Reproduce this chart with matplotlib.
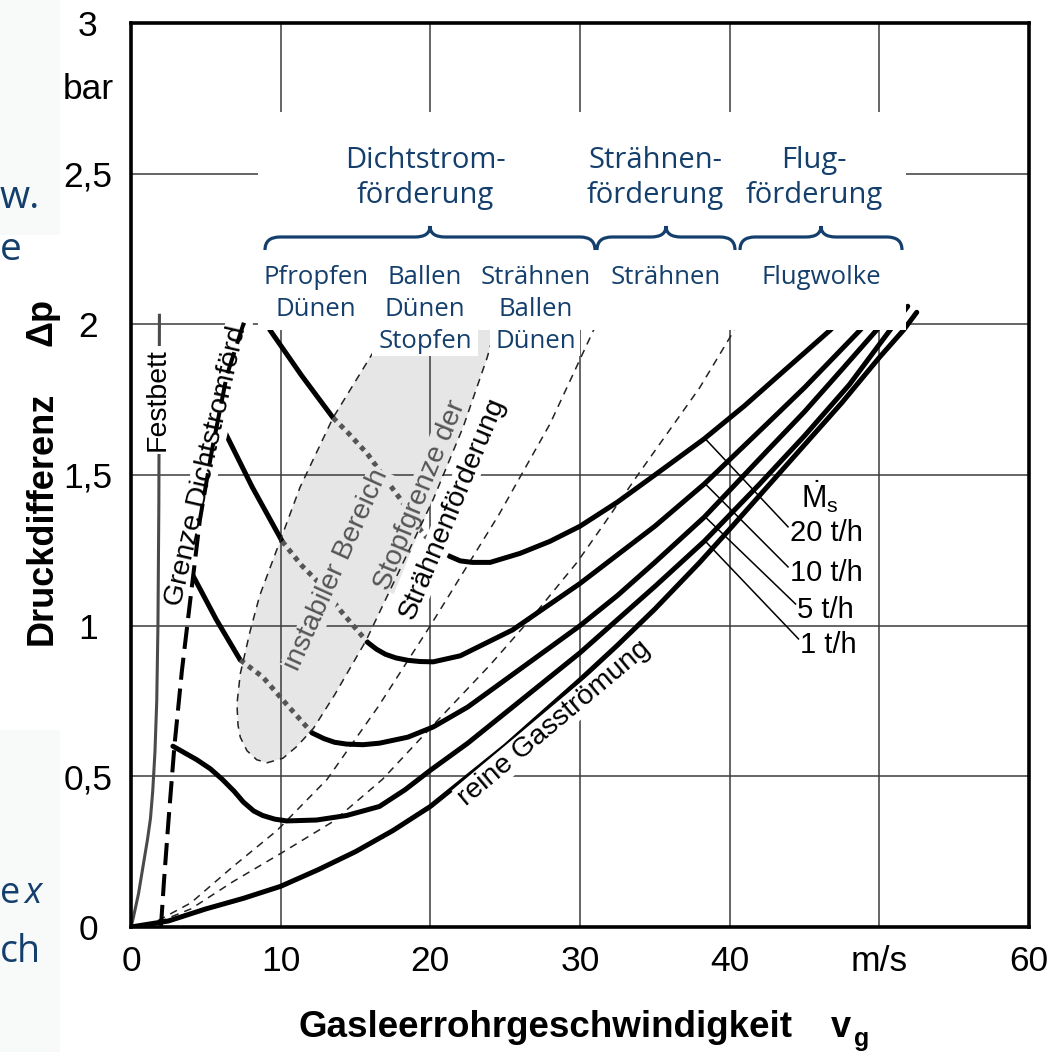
import matplotlib
matplotlib.use('Agg')
import matplotlib.pyplot as plt
import numpy as np
from matplotlib.patches import Rectangle, PathPatch
from matplotlib.path import Path
from matplotlib.transforms import Affine2D

plt.rcParams['font.family'] = ['Liberation Sans', 'DejaVu Sans']
plt.rcParams['mathtext.fontset'] = 'custom'
plt.rcParams['mathtext.rm'] = 'Liberation Sans'
plt.rcParams['mathtext.it'] = 'Liberation Sans'
plt.rcParams['mathtext.bf'] = 'Liberation Sans:bold'

# achsen
x_ticks = [0, 10, 20, 30, 40, 50, 60]
x_tick_labels = ['0', '10', '20', '30', '40', 'm/s', '60']
y_ticks = [0, 0.5, 1, 1.5, 2, 2.5, 2.79, 3]
y_tick_labels = ['0', '0,5', '1', '1,5', '2', '2,5', 'bar', '3']
x_grid = [10, 20, 30, 40, 50]
y_grid = [0.5, 1, 1.5, 2, 2.5]

# reine Gasströmung
gas_x = [0, 2.5, 5, 7.5, 10, 12.5, 15, 17.5, 20, 22.5, 25, 27.5, 30, 32.5, 35, 38, 40, 42.5, 45, 47.5, 50, 51.6, 52.5]
gas_y = [0, 0.02, 0.06, 0.095, 0.135, 0.19, 0.25, 0.32, 0.40, 0.50, 0.60, 0.71, 0.82, 0.935, 1.055, 1.21, 1.32, 1.46, 1.60, 1.74, 1.89, 1.98, 2.04]

# 1 t/h
t1_x = [2.8, 4.4, 5.3, 6.1, 6.9, 7.5, 8.2, 8.8, 9.6, 10.4, 12.4, 14.4, 16.6, 18.3, 20, 22.5, 25, 30, 35, 38.3, 42, 45, 48, 50.7, 51.9]
t1_y = [0.60, 0.555, 0.525, 0.49, 0.45, 0.415, 0.385, 0.37, 0.358, 0.352, 0.355, 0.37, 0.40, 0.455, 0.52, 0.61, 0.71, 0.91, 1.13, 1.28, 1.47, 1.63, 1.80, 1.98, 2.06]

# 5 t/h
t5_a_x = [4.1, 5.7, 7.3]
t5_a_y = [1.17, 1.02, 0.886]
t5_dot_x = [7.3, 8.8, 10.2, 12.1]
t5_dot_y = [0.886, 0.83, 0.75, 0.644]
t5_b_x = [12.1, 12.9, 13.6, 14.4, 15.5, 16.6, 18.5, 20.2, 22.5, 25, 27.5, 30, 32.5, 35, 38.3, 42.5, 45, 47.5, 49.8, 51.3]
t5_b_y = [0.644, 0.625, 0.613, 0.607, 0.605, 0.61, 0.63, 0.664, 0.73, 0.82, 0.91, 1.0, 1.1, 1.21, 1.36, 1.58, 1.71, 1.85, 1.98, 2.07]

# 10 t/h
t10_a_x = [6.1, 8.1, 10.1]
t10_a_y = [1.66, 1.46, 1.28]
t10_dot_x = [10.1, 11.4, 12.6, 14.0, 15.8]
t10_dot_y = [1.28, 1.20, 1.14, 1.05, 0.945]
t10_b_x = [15.8, 16.4, 17, 17.7, 18.5, 19.3, 20.2, 22, 25.5, 30, 35, 38.3, 42.5, 45, 48.7, 50.5]
t10_b_y = [0.945, 0.922, 0.905, 0.893, 0.885, 0.881, 0.88, 0.90, 0.986, 1.14, 1.33, 1.47, 1.67, 1.79, 1.98, 2.08]

# 20 t/h
t20_a_x = [8.8, 9.3, 11.4, 13.5]
t20_a_y = [2.03, 1.98, 1.83, 1.69]
t20_dot_x = [13.5, 14.5, 15.8, 17.1, 18.0, 19.3, 20.3, 21.3]
t20_dot_y = [1.69, 1.64, 1.57, 1.48, 1.42, 1.32, 1.26, 1.23]
t20_b_x = [21.3, 22.0, 22.8, 24, 26, 28, 30, 32.5, 35, 38.3, 41, 43.5, 46.7, 48.5]
t20_b_y = [1.23, 1.215, 1.21, 1.21, 1.24, 1.28, 1.33, 1.41, 1.50, 1.62, 1.73, 1.84, 1.98, 2.07]

# Festbett, Grenze Dichtstromförderung
festbett_x = [0, 0.15, 0.5, 0.8, 1.1, 1.3, 1.45, 1.6, 1.72, 1.8, 1.86, 1.9]
festbett_y = [0, 0.03, 0.11, 0.2, 0.29, 0.36, 0.45, 0.58, 0.75, 1.0, 1.4, 2.03]
grenze_x = [2.0, 2.2, 2.5, 2.9, 3.4, 3.9, 4.6, 5.4, 6.4, 7.7]
grenze_y = [0, 0.15, 0.35, 0.6, 0.85, 1.06, 1.35, 1.58, 1.83, 2.03]

# dünne gestrichelte Linien
dash_u_x = [1.0, 4, 6.8, 9.75, 13.1, 16.5, 20, 24.6, 28, 30.9, 31.4]
dash_u_y = [0, 0.08, 0.20, 0.32, 0.49, 0.73, 1.0, 1.37, 1.67, 1.98, 2.04]
dash_l_x = [1.0, 4, 6.8, 10.2, 13.5, 16.8, 20, 24, 27, 29.8, 31.5, 34, 38, 40.3, 40.8]
dash_l_y = [0, 0.06, 0.15, 0.25, 0.35, 0.49, 0.66, 0.87, 1.04, 1.21, 1.33, 1.51, 1.79, 1.98, 2.02]

# instabiler Bereich
blob_x = [17.6, 16.4, 13.5, 11.3, 9.5, 8.6, 7.95, 7.3, 7.08, 7.15, 7.3, 7.75, 8.4, 9.1, 10.15, 11.1, 12.2, 13.6, 15.7, 18, 20.2, 22.2, 23.8, 24.7]
blob_y = [2.08, 1.925, 1.69, 1.46, 1.22, 1.10, 0.98, 0.84, 0.74, 0.67, 0.63, 0.585, 0.555, 0.545, 0.56, 0.60, 0.66, 0.77, 0.95, 1.19, 1.42, 1.66, 1.89, 2.05]

# Legende
ms_labels = ['20 t/h', '10 t/h', '5 t/h', '1 t/h']
ms_label_x = [44.0, 44.0, 44.5, 44.7]
ms_label_y = [1.308, 1.175, 1.052, 0.936]
leader_x = 38.34

# Overlay (Folie)
head_labels = [['Dichtstrom-', 'förderung'], ['Strähnen-', 'förderung'], ['Flug-', 'förderung']]
head_cx = [425, 655, 814]
sub_labels = [['Pfropfen', 'Dünen'], ['Ballen', 'Dünen', 'Stopfen'], ['Strähnen', 'Ballen', 'Dünen'], ['Strähnen'], ['Flugwolke']]
sub_cx = [316, 425, 536, 666, 821]
braces = [(265, 595, 430), (597, 735, 666), (740, 902, 821)]

W, H = 1056, 1052
blau = '#143f6c'
fig = plt.figure(figsize=(W / 100, H / 100), dpi=100, facecolor='#f8faf9')


def fx(px):
    return px / W


def fy(py):
    return 1 - py / H


fig.add_artist(Rectangle((fx(60), 0), 1 - fx(60), 1, transform=fig.transFigure, fc='white', ec='none', zorder=-2))
fig.add_artist(Rectangle((0, fy(730)), fx(60), fy(235) - fy(730), transform=fig.transFigure, fc='white', ec='none', zorder=-2))

ax = fig.add_axes([fx(131), fy(927), fx(1029) - fx(131), fy(23) - fy(927)])
ax.set_facecolor('white')
ax.set_xlim(0, 60)
ax.set_ylim(0, 3)
for s in ax.spines.values():
    s.set_linewidth(2.6)
    s.set_color('black')
    s.set_zorder(5)
for gx in x_grid:
    ax.axvline(gx, color='#3c3c3c', lw=1.1, zorder=1)
for gy in y_grid:
    ax.axhline(gy, color='#3c3c3c', lw=1.1, zorder=1)

ax.set_xticks(x_ticks, x_tick_labels)
ax.set_yticks(y_ticks, y_tick_labels)
ax.tick_params(length=0, labelsize=25.5)
ax.tick_params(axis='x', pad=13)
ax.tick_params(axis='y', pad=31)
for t in ax.get_yticklabels():
    t.set_horizontalalignment('center')

# instabiler Bereich
ax.fill(blob_x, blob_y, color='#e6e6e6', lw=0, zorder=0.8)
ax.plot(blob_x, blob_y, color='#222222', lw=1.1, ls=(0, (5, 4)), zorder=3.7)

ax.plot(dash_u_x, dash_u_y, color='#222222', lw=1.1, ls=(0, (5, 4)), zorder=2)
ax.plot(dash_l_x, dash_l_y, color='#222222', lw=1.1, ls=(0, (5, 4)), zorder=2)

ax.plot(festbett_x, festbett_y, color='#4a4a4a', lw=2.2, zorder=2.5)
ax.plot(grenze_x, grenze_y, color='black', lw=2.9, ls=(0, (5.5, 2.2)), zorder=4)

dick = dict(color='black', lw=3.6, solid_capstyle='round', solid_joinstyle='round', zorder=3)
punkt = dict(color='#555555', lw=3.6, ls=(0, (1, 1)), dash_capstyle='butt', zorder=3)
ax.plot(gas_x, gas_y, **dick)
ax.plot(t1_x, t1_y, **dick)
ax.plot(t5_a_x, t5_a_y, **dick)
ax.plot(t5_dot_x, t5_dot_y, **punkt)
ax.plot(t5_b_x, t5_b_y, **dick)
ax.plot(t10_a_x, t10_a_y, **dick)
ax.plot(t10_dot_x, t10_dot_y, **punkt)
ax.plot(t10_b_x, t10_b_y, **dick)
ax.plot(t20_a_x, t20_a_y, **dick)
ax.plot(t20_dot_x, t20_dot_y, **punkt)
ax.plot(t20_b_x, t20_b_y, **dick)

# Beschriftungen im Diagramm
ax.text(1.8, 1.749, 'Festbett', rotation=90, ha='center', va='center', fontsize=20.5,
        bbox=dict(fc='white', ec='none', pad=2), zorder=3.5)
ax.text(5.08, 1.543, 'Grenze Dichtstromförd.', rotation=77, rotation_mode='anchor', ha='center', va='center',
        fontsize=20.5, bbox=dict(fc='white', ec='none', pad=0.5), zorder=3.5)
ax.text(13.76, 1.185, 'instabiler Bereich', rotation=65.7, rotation_mode='anchor', ha='center', va='center',
        fontsize=20.5, color='#555555', bbox=dict(fc='#e6e6e6', ec='none', pad=0.5), zorder=3.5)
ax.text(19.3, 1.434, 'Stopfgrenze der', rotation=67.8, rotation_mode='anchor', ha='center', va='center',
        fontsize=20.5, color='#555555', bbox=dict(fc='#e6e6e6', ec='none', pad=0.3), zorder=3.5)
ax.text(21.5, 1.391, 'Strähnenförderung', rotation=67.4, rotation_mode='anchor', ha='center', va='center',
        fontsize=20.5, color='black', bbox=dict(fc='white', ec='none', pad=0.3), zorder=3.5)
ax.text(28.3, 0.677, 'reine Gasströmung', rotation=40, rotation_mode='anchor', ha='center', va='center',
        fontsize=20.5, bbox=dict(fc='white', ec='none', pad=1), zorder=3.5)

curves = [(t20_b_x, t20_b_y), (t10_b_x, t10_b_y), (t5_b_x, t5_b_y), (t1_x, t1_y)]
for lab, lx, ly, (cx, cy) in zip(ms_labels, ms_label_x, ms_label_y, curves):
    y0 = np.interp(leader_x, cx, cy)
    ax.plot([leader_x, lx - 0.1], [y0, ly + 0.02], color='black', lw=1.1, zorder=3.2)
    ax.text(lx, ly, lab, ha='left', va='center', fontsize=21, zorder=3.5)
ax.text(46.0, 1.427, r'$\dot{\mathrm{M}}_{\mathrm{s}}$', ha='center', va='center', fontsize=22, zorder=3.5)

# Achsentitel
fig.text(fx(42), fy(518), 'Druckdifferenz', rotation=90, ha='center', va='center', fontsize=26, fontweight='bold')
fig.text(fx(42), fy(322), 'Δp', rotation=90, ha='center', va='center', fontsize=26, fontweight='bold')
fig.text(fx(546), fy(1037), 'Gasleerrohrgeschwindigkeit', ha='center', va='baseline', fontsize=26.5, fontweight='bold')
fig.text(fx(841), fy(1037), 'v', ha='center', va='baseline', fontsize=26, fontweight='bold')
fig.text(fx(862), fy(1046), 'g', ha='center', va='baseline', fontsize=18, fontweight='bold')

# Overlay-Kasten
kaesten = [(258, 112, 906, 330), (372, 329, 478, 356), (490, 329, 580, 356)]
for x0, y0, x1, y1 in kaesten:
    fig.add_artist(Rectangle((fx(x0), fy(y1)), fx(x1) - fx(x0), fy(y0) - fy(y1),
                             transform=fig.transFigure, fc='white', ec='none', zorder=5))
for lines, cx in zip(head_labels, head_cx):
    for i, s in enumerate(lines):
        fig.text(fx(cx), fy(168 + 35 * i), s, ha='center', va='baseline', fontsize=21,
                 family='Open Sans', color=blau, zorder=6)
for lines, cx in zip(sub_labels, sub_cx):
    for i, s in enumerate(lines):
        fig.text(fx(cx), fy(284 + 32 * i), s, ha='center', va='baseline', fontsize=18.5,
                 family='Open Sans', color=blau, zorder=6)

px2fig = Affine2D().scale(1 / W, -1 / H).translate(0, 1) + fig.transFigure
for x0, x1, xm in braces:
    yb, ye, yt, r = 237, 250, 226, 15
    verts = [(x0, ye), (x0, yb), (x0 + r, yb), (xm - r, yb), (xm, yb), (xm, yt),
             (xm, yb), (xm + r, yb), (x1 - r, yb), (x1, yb), (x1, ye)]
    codes = [Path.MOVETO, Path.CURVE3, Path.CURVE3, Path.LINETO, Path.CURVE3, Path.CURVE3,
             Path.CURVE3, Path.CURVE3, Path.LINETO, Path.CURVE3, Path.CURVE3]
    fig.add_artist(PathPatch(Path(verts, codes), transform=px2fig, fc='none', ec=blau, lw=2.3, zorder=6))

# Reste vom Folientext
fig.text(0, fy(208), 'w.', ha='left', va='baseline', fontsize=28, family='Open Sans', color=blau)
fig.text(0, fy(260), 'e', ha='left', va='baseline', fontsize=28, family='Open Sans', color=blau)
fig.text(0, fy(903), 'e', ha='left', va='baseline', fontsize=26, family='Open Sans', color=blau)
fig.text(fx(24), fy(903), 'x', ha='left', va='baseline', fontsize=26, family='Open Sans', style='italic', color=blau)
fig.text(0, fy(962), 'ch', ha='left', va='baseline', fontsize=27, family='Open Sans', color=blau)

fig.savefig('out.png', dpi=100, facecolor=fig.get_facecolor())
